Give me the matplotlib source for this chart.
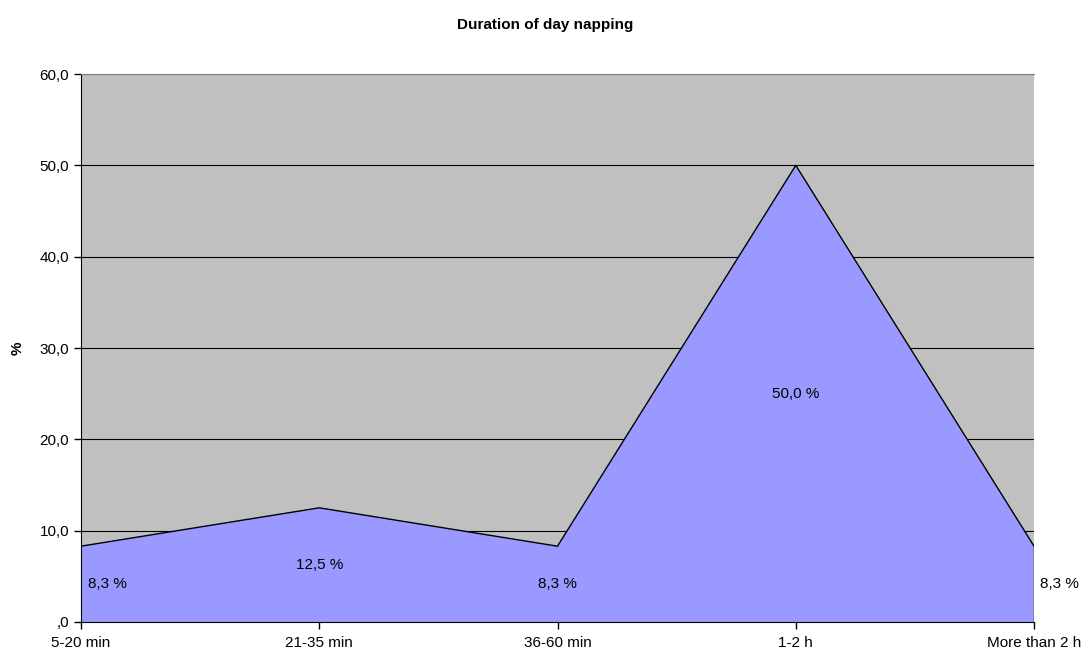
import matplotlib
matplotlib.use('Agg')
import matplotlib.pyplot as plt

categories = ['5-20 min', '21-35 min', '36-60 min', '1-2 h', 'More than 2 h']
values = [8.3, 12.5, 8.3, 50.0, 8.3]
yticks = [0, 10, 20, 30, 40, 50, 60]
ytick_labels = [',0', '10,0', '20,0', '30,0', '40,0', '50,0', '60,0']

plt.rcParams['font.family'] = ['Liberation Sans', 'DejaVu Sans']

fig = plt.figure(figsize=(10.91, 6.55), dpi=100)
ax = fig.add_axes([0.0742, 0.0504, 0.8736, 0.8366])
ax.set_facecolor('#C0C0C0')

x = list(range(len(categories)))
ax.fill_between(x, values, 0, facecolor='#9999FF', edgecolor='none', zorder=2)
ax.plot(x, values, color='black', linewidth=1, zorder=3)
ax.plot([x[-1], x[-1]], [0, values[-1]], color='black', linewidth=1, zorder=3)

ax.set_xlim(0, len(categories) - 1)
ax.set_ylim(0, 60)
ax.set_yticks(yticks)
ax.set_yticklabels(ytick_labels)
ax.set_xticks(x)
ax.set_xticklabels(categories)
ax.yaxis.grid(True, color='black', linewidth=0.8, zorder=1)
ax.set_axisbelow(True)
ax.tick_params(axis='both', labelsize=11, direction='out', length=5, width=1, colors='black')
ax.tick_params(axis='x', pad=5)

ax.spines['right'].set_visible(False)
ax.spines['top'].set_color('#808080')
ax.spines['left'].set_color('black')
ax.spines['bottom'].set_color('black')
ax.spines['bottom'].set_zorder(4)

# data labels at half height
for i, v in enumerate(values):
    lbl = ('%.1f %%' % v).replace('.', ',')
    if i == 0:
        ax.annotate(lbl, (i, v / 2), xytext=(5, 0), textcoords='offset points',
                    ha='left', va='center', fontsize=11, zorder=5)
    elif i == len(values) - 1:
        ax.annotate(lbl, (i, v / 2), xytext=(4, 0), textcoords='offset points',
                    ha='left', va='center', fontsize=11, zorder=5, annotation_clip=False)
    else:
        ax.text(i, v / 2, lbl, ha='center', va='center', fontsize=11, zorder=5)

ax.set_ylabel('%', fontsize=11, fontweight='bold', labelpad=11)
fig.text(0.5, 0.962, 'Duration of day napping', ha='center', va='center',
         fontsize=11, fontweight='bold')

fig.savefig('out.png', dpi=100)
